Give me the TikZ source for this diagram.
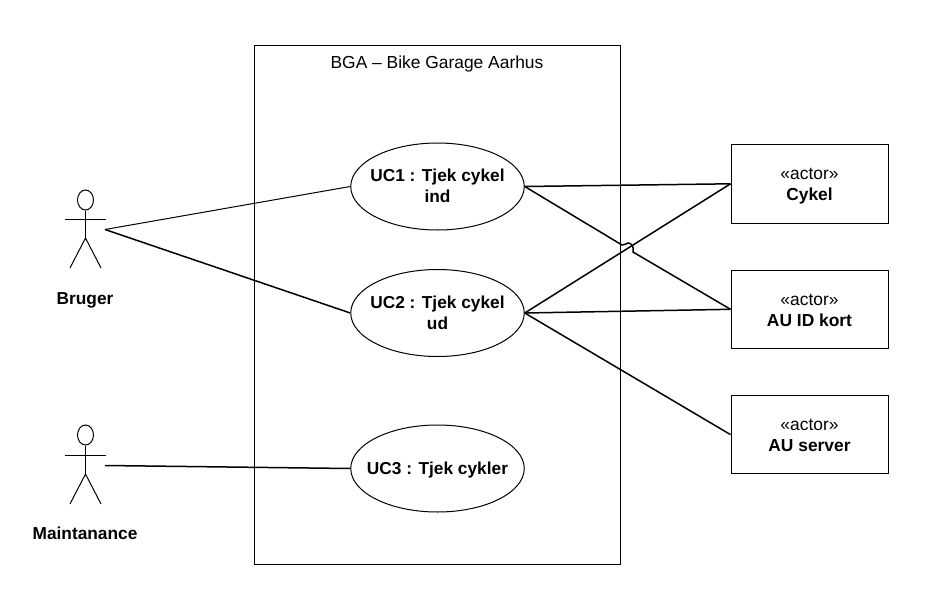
\documentclass[tikz,border=0pt]{standalone}
\usepackage{fontspec}
\setmainfont{Liberation Sans}
\usetikzlibrary{shapes.geometric}
\newcommand{\ucline}[2][0pt]{\makebox[0pt]{\raisebox{#1}[\height][\depth]{#2}}}
\newcommand{\boxline}[1]{\rule[-3.7pt]{0pt}{3.7pt}\raisebox{-2.5pt}[\height][\depth]{#1}}
\tikzset{
  x=1pt,y=-1pt,
  usecase/.style={draw,ellipse,minimum width=173.5pt,minimum height=87pt,inner sep=0pt,align=center,font=\fontsize{17.3pt}{20.7pt}\selectfont\bfseries,line width=1pt},
  actorbox/.style={draw,rectangle,minimum width=157pt,minimum height=78.5pt,inner sep=0pt,align=center,font=\fontsize{17.4pt}{21pt}\selectfont,line width=1pt},
  conn/.style={line width=1.5pt},
  thinconn/.style={line width=1pt},
  fig/.style={line width=1pt},
  actorlabel/.style={font=\fontsize{17.3pt}{18pt}\selectfont\bfseries,inner sep=0pt}
}
\begin{document}
\begin{tikzpicture}
\useasboundingbox (0,0) rectangle (927,608);
\fill[white] (0,0) rectangle (927,608);
\node[draw,line width=1pt,minimum width=366pt,minimum height=519pt,inner sep=0pt] (system) at (437,304.5) {};
\node[font=\fontsize{17.4pt}{18pt}\selectfont,inner sep=0pt] (title) at (437,64) {BGA -- Bike Garage Aarhus};
\node[usecase] (uc1) at (437.5,186.5) {\ucline[1pt]{UC1 : Tjek cykel}\\\ucline[1pt]{ind}};
\node[usecase] (uc2) at (437.5,313) {\ucline{UC2 : Tjek cykel}\\\ucline{ud}};
\node[usecase] (uc3) at (437.5,468.5) {\ucline[-1.5pt]{UC3 : Tjek cykler}};
\node[actorbox] (cykel) at (809.5,183.8) {\boxline{«actor»}\\\boxline{\textbf{Cykel}}};
\node[actorbox] (idkort) at (809.5,309.3) {\boxline{«actor»}\\\boxline{\textbf{AU ID kort}}};
\node[actorbox] (server) at (809.5,434.6) {\boxline{«actor»}\\\boxline{\textbf{AU server}}};
% actors
\node[draw,ellipse,fig,minimum width=16pt,minimum height=20pt,inner sep=0pt] (head1) at (85.5,200) {};
\coordinate (hip1) at (85.5,238);
\draw[fig] (head1.south) -- (hip1);
\draw[fig] (65,219) -- (106,219);
\draw[fig] (70,268) -- (hip1) -- (101,268);
\coordinate (a1) at (105,229.5);
\node[actorlabel] (bruger) at (85,300.5) {Bruger};
\node[draw,ellipse,fig,minimum width=16pt,minimum height=20pt,inner sep=0pt] (head2) at (85.5,435) {};
\coordinate (hip2) at (85.5,474);
\draw[fig] (head2.south) -- (hip2);
\draw[fig] (65,455) -- (106,455);
\draw[fig] (70,504) -- (hip2) -- (101,504);
\coordinate (a2) at (105,465.5);
\node[actorlabel] (maint) at (85,533.5) {Maintanance};
% connectors
\draw[thinconn] (a1) -- (uc1.west);
\draw[conn] (a1) -- (uc2.west);
\draw[conn] (a2) -- (uc3.west);
\draw[conn] (uc1.east) -- (cykel.west);
\coordinate (h1) at (622,245);
\coordinate (h2) at (633,252);
\draw[conn] (uc1.east) -- (h1) .. controls (625,246) and (625,243) .. (628,243) .. controls (632,243) and (634,247) .. (h2) -- (idkort.west);
\draw[conn] (uc2.east) -- (cykel.west);
\draw[conn] (uc2.east) -- (idkort.west);
\draw[conn] (uc2.east) -- (server.west);
\end{tikzpicture}
\end{document}
